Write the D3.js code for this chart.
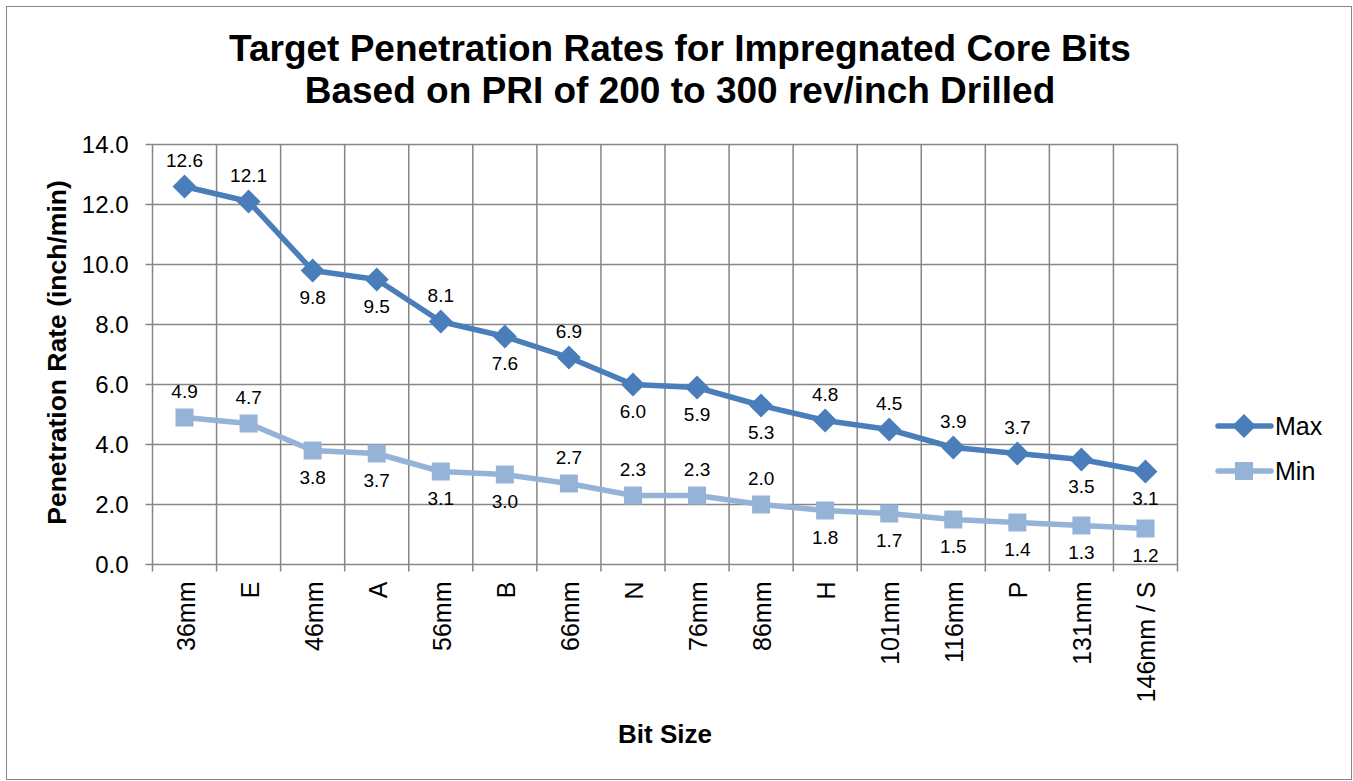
<!DOCTYPE html>
<html>
<head>
<meta charset="utf-8">
<script src="https://cdn.jsdelivr.net/npm/d3@7"></script>
<style>
  body { margin: 0; background: #fff; }
  text { font-family: "Liberation Sans", Arial, sans-serif; }
</style>
</head>
<body>
<svg id="chart"></svg>
<script>
const categories = ["36mm", "E", "46mm", "A", "56mm", "B", "66mm", "N", "76mm", "86mm", "H", "101mm", "116mm", "P", "131mm", "146mm / S"];
const maxValues = [12.6, 12.1, 9.8, 9.5, 8.1, 7.6, 6.9, 6.0, 5.9, 5.3, 4.8, 4.5, 3.9, 3.7, 3.5, 3.1];
const minValues = [4.9, 4.7, 3.8, 3.7, 3.1, 3.0, 2.7, 2.3, 2.3, 2.0, 1.8, 1.7, 1.5, 1.4, 1.3, 1.2];
// label placement: 1 = above the point, -1 = below
const maxLabelSide = [1, 1, -1, -1, 1, -1, 1, -1, -1, -1, 1, 1, 1, 1, -1, -1];
const minLabelSide = [1, 1, -1, -1, -1, -1, 1, 1, 1, 1, -1, -1, -1, -1, -1, -1];
const yTicks = [0, 2, 4, 6, 8, 10, 12, 14];

const series = [
  { name: "Max", values: maxValues, sides: maxLabelSide, color: "#4A7EBB", marker: "diamond" },
  { name: "Min", values: minValues, sides: minLabelSide, color: "#95B3D7", marker: "square" }
];

const width = 1353, height = 781;
const plot = { left: 152.5, right: 1177.5, top: 144.5, bottom: 564.5 };

const svg = d3.select("#chart").attr("width", width).attr("height", height);

// outer border
svg.append("rect")
  .attr("x", 6.5).attr("y", 6.5)
  .attr("width", 1345).attr("height", 773)
  .attr("fill", "#fff").attr("stroke", "#868686").attr("stroke-width", 1);

const x = d3.scaleBand().domain(categories).range([plot.left, plot.right]);
const y = d3.scaleLinear().domain([0, 14]).range([plot.bottom, plot.top]);

const grid = svg.append("g");
// horizontal gridlines
grid.selectAll(".hgrid")
  .data(yTicks)
  .enter().append("line")
  .attr("x1", plot.left - 7).attr("x2", plot.right)
  .attr("y1", d => y(d)).attr("y2", d => y(d))
  .attr("stroke", "#868686").attr("stroke-width", 1.5);

// vertical gridlines at category boundaries
const bounds = categories.map(c => x(c)).concat([plot.right]);
grid.selectAll(".vgrid")
  .data(bounds)
  .enter().append("line")
  .attr("x1", d => d).attr("x2", d => d)
  .attr("y1", plot.top).attr("y2", plot.bottom + 7)
  .attr("stroke", "#868686").attr("stroke-width", 1.5);

// y tick labels
svg.append("g").selectAll("text")
  .data(yTicks)
  .enter().append("text")
  .attr("x", plot.left - 24)
  .attr("y", d => y(d))
  .attr("dy", "0.35em")
  .attr("text-anchor", "end")
  .attr("font-size", 24)
  .attr("fill", "#000")
  .text(d => d.toFixed(1));

// x tick labels (rotated)
svg.append("g").selectAll("text")
  .data(categories)
  .enter().append("text")
  .attr("transform", d => `translate(${x(d) + x.bandwidth() / 2 + 1},${plot.bottom + 17}) rotate(-90)`)
  .attr("dy", "0.36em")
  .attr("text-anchor", "end")
  .attr("font-size", 25)
  .attr("fill", "#000")
  .text(d => d);

// titles
svg.append("text")
  .attr("x", 680).attr("y", 61)
  .attr("text-anchor", "middle")
  .attr("font-size", 37).attr("font-weight", "bold")
  .text("Target Penetration Rates for Impregnated Core Bits");
svg.append("text")
  .attr("x", 680).attr("y", 103)
  .attr("text-anchor", "middle")
  .attr("font-size", 37).attr("font-weight", "bold")
  .text("Based on PRI of 200 to 300 rev/inch Drilled");

svg.append("text")
  .attr("transform", `translate(57,${(plot.top + plot.bottom) / 2 - 2}) rotate(-90)`)
  .attr("dy", "0.35em")
  .attr("text-anchor", "middle")
  .attr("font-size", 26.5).attr("font-weight", "bold")
  .text("Penetration Rate (inch/min)");

svg.append("text")
  .attr("x", 665).attr("y", 743)
  .attr("text-anchor", "middle")
  .attr("font-size", 26).attr("font-weight", "bold")
  .text("Bit Size");

const line = d3.line()
  .x((d, i) => x(categories[i]) + x.bandwidth() / 2)
  .y(d => y(d));

function drawMarker(g, type, color) {
  if (type === "diamond") {
    g.append("path").attr("d", "M0,-12L12,0L0,12L-12,0Z").attr("fill", color);
  } else {
    g.append("rect").attr("x", -9).attr("y", -9).attr("width", 18).attr("height", 18).attr("fill", color);
  }
}

series.forEach(s => {
  const g = svg.append("g");
  g.append("path")
    .datum(s.values)
    .attr("d", line)
    .attr("fill", "none")
    .attr("stroke", s.color)
    .attr("stroke-width", 5.5)
    .attr("stroke-linejoin", "round")
    .attr("stroke-linecap", "round");

  g.selectAll(".pt")
    .data(s.values)
    .enter().append("g")
    .attr("transform", (d, i) => `translate(${x(categories[i]) + x.bandwidth() / 2},${y(d)})`)
    .each(function () { drawMarker(d3.select(this), s.marker, s.color); });

  g.selectAll(".lbl")
    .data(s.values)
    .enter().append("text")
    .attr("x", (d, i) => x(categories[i]) + x.bandwidth() / 2)
    .attr("y", (d, i) => y(d) + (s.sides[i] > 0 ? -26 : 27))
    .attr("dy", "0.35em")
    .attr("text-anchor", "middle")
    .attr("font-size", 19)
    .attr("fill", "#000")
    .text(d => d.toFixed(1));
});

// legend
const legend = svg.append("g");
series.forEach((s, i) => {
  const ly = 426 + i * 45;
  legend.append("line")
    .attr("x1", 1218).attr("x2", 1271)
    .attr("y1", ly).attr("y2", ly)
    .attr("stroke", s.color).attr("stroke-width", 5.5)
    .attr("stroke-linecap", "round");
  const m = legend.append("g").attr("transform", `translate(1244,${ly})`);
  drawMarker(m, s.marker, s.color);
  legend.append("text")
    .attr("x", 1275).attr("y", ly)
    .attr("dy", "0.35em")
    .attr("font-size", 25)
    .text(s.name);
});
</script>
</body>
</html>
